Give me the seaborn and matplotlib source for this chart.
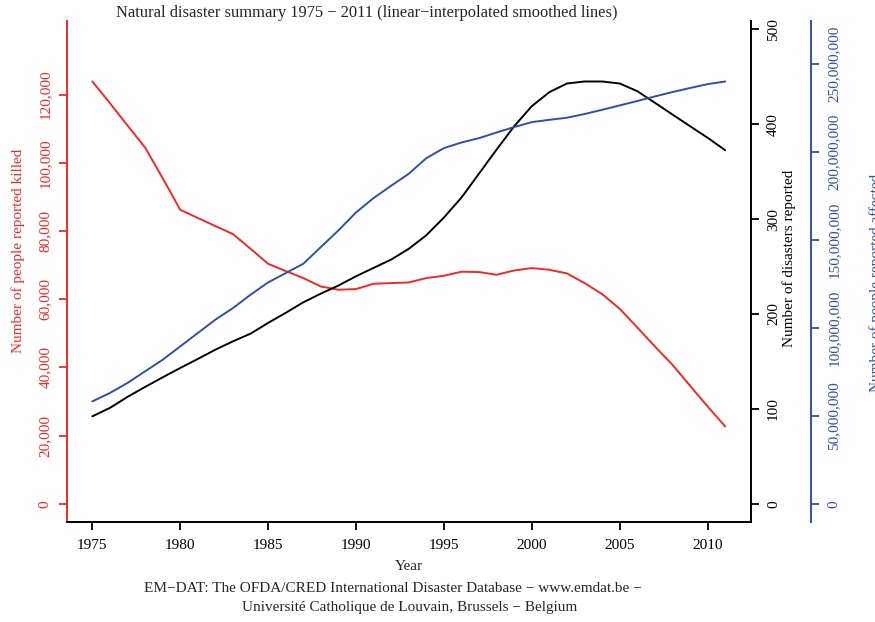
import pandas as pd
import seaborn as sns
import matplotlib.pyplot as plt
from matplotlib.ticker import FuncFormatter

# --- data ---
years = list(range(1975, 2012))
killed = [123860, 117520, 110960, 104500, 95530, 86230, 83830, 81450, 79100, 74790,
          70390, 68250, 66200, 63730, 62770, 62970, 64530, 64730, 64910, 66200,
          66870, 68050, 67960, 67170, 68430, 69130, 68630, 67550, 64730, 61500,
          57190, 51710, 46140, 40770, 34610, 28540, 22670]
disasters = [92.1, 101.0, 112.6, 123.1, 133.2, 143.1, 152.6, 162.4, 171.2, 179.3,
             190.6, 201.2, 212.3, 221.5, 230.0, 239.8, 248.6, 257.4, 268.7, 283.0,
             301.7, 322.8, 348.1, 373.4, 398.0, 419.1, 433.9, 443.0, 445.1, 445.1,
             443.0, 434.9, 422.7, 410.3, 398.0, 385.8, 372.7]
affected_m = [58.2, 63.0, 68.7, 75.3, 81.9, 89.5, 97.1, 104.7, 111.3, 118.9,
              125.9, 131.2, 136.5, 146.0, 155.5, 165.7, 173.9, 180.9, 187.7, 196.6,
              202.3, 205.5, 208.0, 211.2, 214.3, 217.1, 218.4, 219.6, 221.7, 224.1,
              226.6, 229.1, 231.7, 234.2, 236.5, 238.7, 240.2]

year_ticks = [1975, 1980, 1985, 1990, 1995, 2000, 2005, 2010]
killed_ticks = [0, 20000, 40000, 60000, 80000, 100000, 120000]
disaster_ticks = [0, 100, 200, 300, 400, 500]
affected_ticks = [0, 50e6, 100e6, 150e6, 200e6, 250e6]

df = pd.DataFrame({"Year": years, "killed": killed, "disasters": disasters,
                   "affected": [a * 1e6 for a in affected_m]})

RED = "#F52828"
BLUE = "#3050A8"

sns.set_theme(style="white")
plt.rcParams['font.family'] = ['Liberation Serif', 'DejaVu Serif']
FS = 11

W, H = 875, 622
fig = plt.figure(figsize=(W / 100, H / 100), dpi=100)
ax = fig.add_axes([67 / W, 1 - 522.3 / H, 683.5 / W, 501.6 / H])
ax2 = ax.twinx()
ax3 = ax.twinx()

sns.lineplot(data=df, x="Year", y="killed", ax=ax, color=RED, lw=1.4)
sns.lineplot(data=df, x="Year", y="disasters", ax=ax2, color="black", lw=1.4)
sns.lineplot(data=df, x="Year", y="affected", ax=ax3, color=BLUE, lw=1.4)

# R-like limits: 4% padding on 0..1.1*max
ax.set_xlim(1975 - 0.04 * 36, 2011 + 0.04 * 36)
for a, col in [(ax, "killed"), (ax2, "disasters"), (ax3, "affected")]:
    top = df[col].max() * 1.1
    a.set_ylim(-0.04 * top, 1.04 * top)
    a.set_ylabel("")
    a.set_xlabel("")

fmt = FuncFormatter(lambda v, p: f"{int(round(v)):,}")

# left red axis
ax.set_xticks(year_ticks)
ax.set_yticks(killed_ticks)
ax.yaxis.set_major_formatter(fmt)
for s in ["top", "right"]:
    ax.spines[s].set_visible(False)
ax.spines["left"].set_color(RED)
ax.spines["bottom"].set_color("black")
ax.spines["left"].set_linewidth(1.4)
ax.spines["bottom"].set_linewidth(1.4)
ax.tick_params(axis="y", left=True, direction="out", length=6, width=1.3,
               colors=RED, labelsize=FS, pad=5)
ax.tick_params(axis="x", bottom=True, direction="out", length=6, width=1.3,
               colors="black", labelsize=FS, pad=6)
plt.setp(ax.get_yticklabels(), rotation=90, va="center")

# black right axis
ax2.set_yticks(disaster_ticks)
for s in ["top", "left", "bottom"]:
    ax2.spines[s].set_visible(False)
ax2.spines["right"].set_color("black")
ax2.spines["right"].set_linewidth(1.4)
ax2.tick_params(axis="y", right=True, direction="out", length=6, width=1.3,
                colors="black", labelsize=FS, pad=6)
plt.setp(ax2.get_yticklabels(), rotation=90, va="center")

# blue outer axis
ax3.set_yticks(affected_ticks)
ax3.yaxis.set_major_formatter(fmt)
for s in ["top", "left", "bottom"]:
    ax3.spines[s].set_visible(False)
ax3.spines["right"].set_position(("axes", (811 - 67) / 683.5))
ax3.spines["right"].set_color(BLUE)
ax3.spines["right"].set_linewidth(1.4)
ax3.tick_params(axis="y", right=True, direction="out", length=6, width=1.3,
                colors=BLUE, labelsize=FS, pad=6)
plt.setp(ax3.get_yticklabels(), rotation=90, va="center")

# texts
def px(x, y):
    return x / W, 1 - y / H

fig.text(*px(367, 13), "Natural disaster summary 1975 \u2212 2011 (linear\u2212interpolated smoothed lines)",
         ha="center", va="center", fontsize=11.9)
fig.text(*px(409, 567), "Year", ha="center", va="center", fontsize=FS)
fig.text(*px(393, 588), "EM\u2212DAT: The OFDA/CRED International Disaster Database \u2212 www.emdat.be \u2212",
         ha="center", va="center", fontsize=FS)
fig.text(*px(410, 608), "Universit\u00e9 Catholique de Louvain, Brussels \u2212 Belgium",
         ha="center", va="center", fontsize=FS)
fig.text(*px(18, 251), "Number of people reported killed", rotation=90,
         ha="center", va="center", fontsize=FS, color=RED)
fig.text(*px(789, 258), "Number of disasters reported", rotation=90,
         ha="center", va="center", fontsize=FS, color="black")
# in the reference this label runs off the right edge
fig.text(*px(876, 283), "Number of people reported affected", rotation=90,
         ha="center", va="center", fontsize=FS, color=BLUE)

fig.savefig("out.png", dpi=100)
